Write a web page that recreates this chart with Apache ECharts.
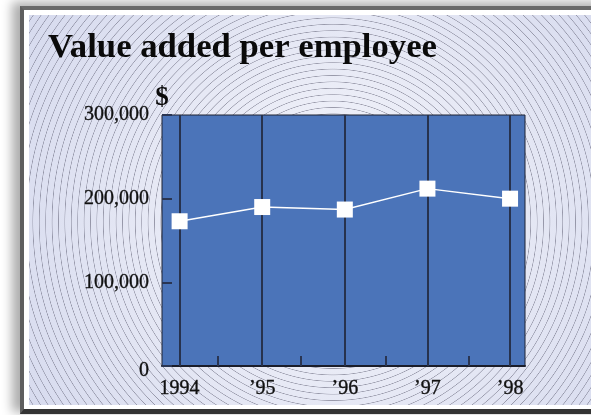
<!DOCTYPE html>
<html>
<head>
<meta charset="utf-8">
<script src="https://cdn.jsdelivr.net/npm/echarts@6/dist/echarts.min.js"></script>
<style>
  html, body { margin: 0; padding: 0; background: #ffffff; }
  #wrap { position: relative; width: 591px; height: 415px; overflow: hidden; background: #fff; }
  #frame {
    position: absolute; left: 20px; top: 6px; width: 640px; height: 399px;
    background: #ffffff;
    border-left: 4px solid #5e5e5e; border-top: 4px solid #6a6a6a; border-bottom: 5px solid #333333;
    box-shadow: -7px -3px 10px 1px rgba(0,0,0,0.32);
  }
  #bg {
    position: absolute; left: 29px; top: 15px; width: 600px; height: 390px;
    background-image:
      repeating-radial-gradient(circle at 304px 207px, rgba(255,255,255,0) 0px, rgba(255,255,255,0) 5.1px, rgba(100,100,120,0.6) 5.7px, rgba(255,255,255,0) 6.4px),
      radial-gradient(circle at 304px 207px, #f7f8fc 0%, #e9ebf6 40%, #d6daee 100%);
  }
  #chart { position: absolute; left: 0; top: 0; width: 591px; height: 415px; }
</style>
</head>
<body>
<div id="wrap">
  <div id="frame"></div>
  <div id="bg"></div>
  <div id="chart"></div>
</div>
<script>
// ---- data ----
const years = [1994, 1995, 1996, 1997, 1998];
const yearLabels = ['1994', '\u201995', '\u201996', '\u201997', '\u201998'];
const values = [173000, 190000, 187000, 212000, 200000];
const minorTicks = [1994.46, 1995.47, 1996.49, 1997.5];
const yTicks = [0, 100000, 200000, 300000];
const title = 'Value added per employee';
const unit = '$';

const serif = '"Liberation Serif", "DejaVu Serif", serif';
const chart = echarts.init(document.getElementById('chart'), null, { renderer: 'canvas' });

const labelMap = {};
years.forEach((y, i) => { labelMap[y] = yearLabels[i]; });

const labelText = { fontFamily: serif, fontSize: 20, color: '#111', textBorderColor: '#111', textBorderWidth: 0.35 };

chart.setOption({
  animation: false,
  backgroundColor: 'transparent',
  title: {
    text: title,
    left: 43, top: 26,
    textStyle: { fontFamily: serif, fontWeight: 'bold', fontSize: 34.7, color: '#0a0a0a' }
  },
  grid: {
    left: 162, top: 115, right: 66, bottom: 49,
    show: true, backgroundColor: '#4b74b9', borderColor: '#1f2333', borderWidth: 1
  },
  xAxis: {
    type: 'value',
    min: 1993.787, max: 1998.181,
    splitLine: { show: false },
    axisLine: { show: true, onZero: false, lineStyle: { color: '#1a1d2a', width: 2 } },
    axisTick: {
      show: true, inside: true, length: 10, customValues: minorTicks,
      lineStyle: { color: '#2a3552', width: 2 }
    },
    axisLabel: Object.assign({
      show: true, customValues: years, margin: 13,
      formatter: v => labelMap[Math.round(v)] || ''
    }, labelText)
  },
  yAxis: {
    type: 'value',
    min: 0, max: 300000, interval: 100000,
    name: unit, nameLocation: 'end', nameGap: 3,
    nameTextStyle: { fontFamily: serif, fontWeight: 'bold', fontSize: 27, color: '#0a0a0a', align: 'center' },
    splitLine: { show: false },
    axisLine: { show: false },
    axisTick: { show: true, inside: true, length: 10, lineStyle: { color: '#2a3552', width: 2 } },
    axisLabel: Object.assign({
      margin: 13,
      formatter: v => v === 0 ? '{z|0}' : (yTicks.indexOf(v) >= 0 ? v.toLocaleString('en-US') : ''),
      rich: { z: Object.assign({ padding: [9, 0, 0, 0] }, labelText) }
    }, labelText)
  },
  series: [
    {
      type: 'line', z: 1, data: [], silent: true,
      markLine: {
        z: 1, silent: true, symbol: 'none', animation: false,
        lineStyle: { type: 'solid', color: '#27324d', width: 2 },
        label: { show: false },
        emphasis: { disabled: true },
        data: years.map(y => ({ xAxis: y }))
      }
    },
    {
      type: 'line', z: 10,
      data: years.map((y, i) => [y, values[i]]),
      symbol: 'rect', symbolSize: 16,
      itemStyle: { color: '#ffffff' },
      lineStyle: { color: '#ffffff', width: 1.5 }
    }
  ]
});
</script>
</body>
</html>
